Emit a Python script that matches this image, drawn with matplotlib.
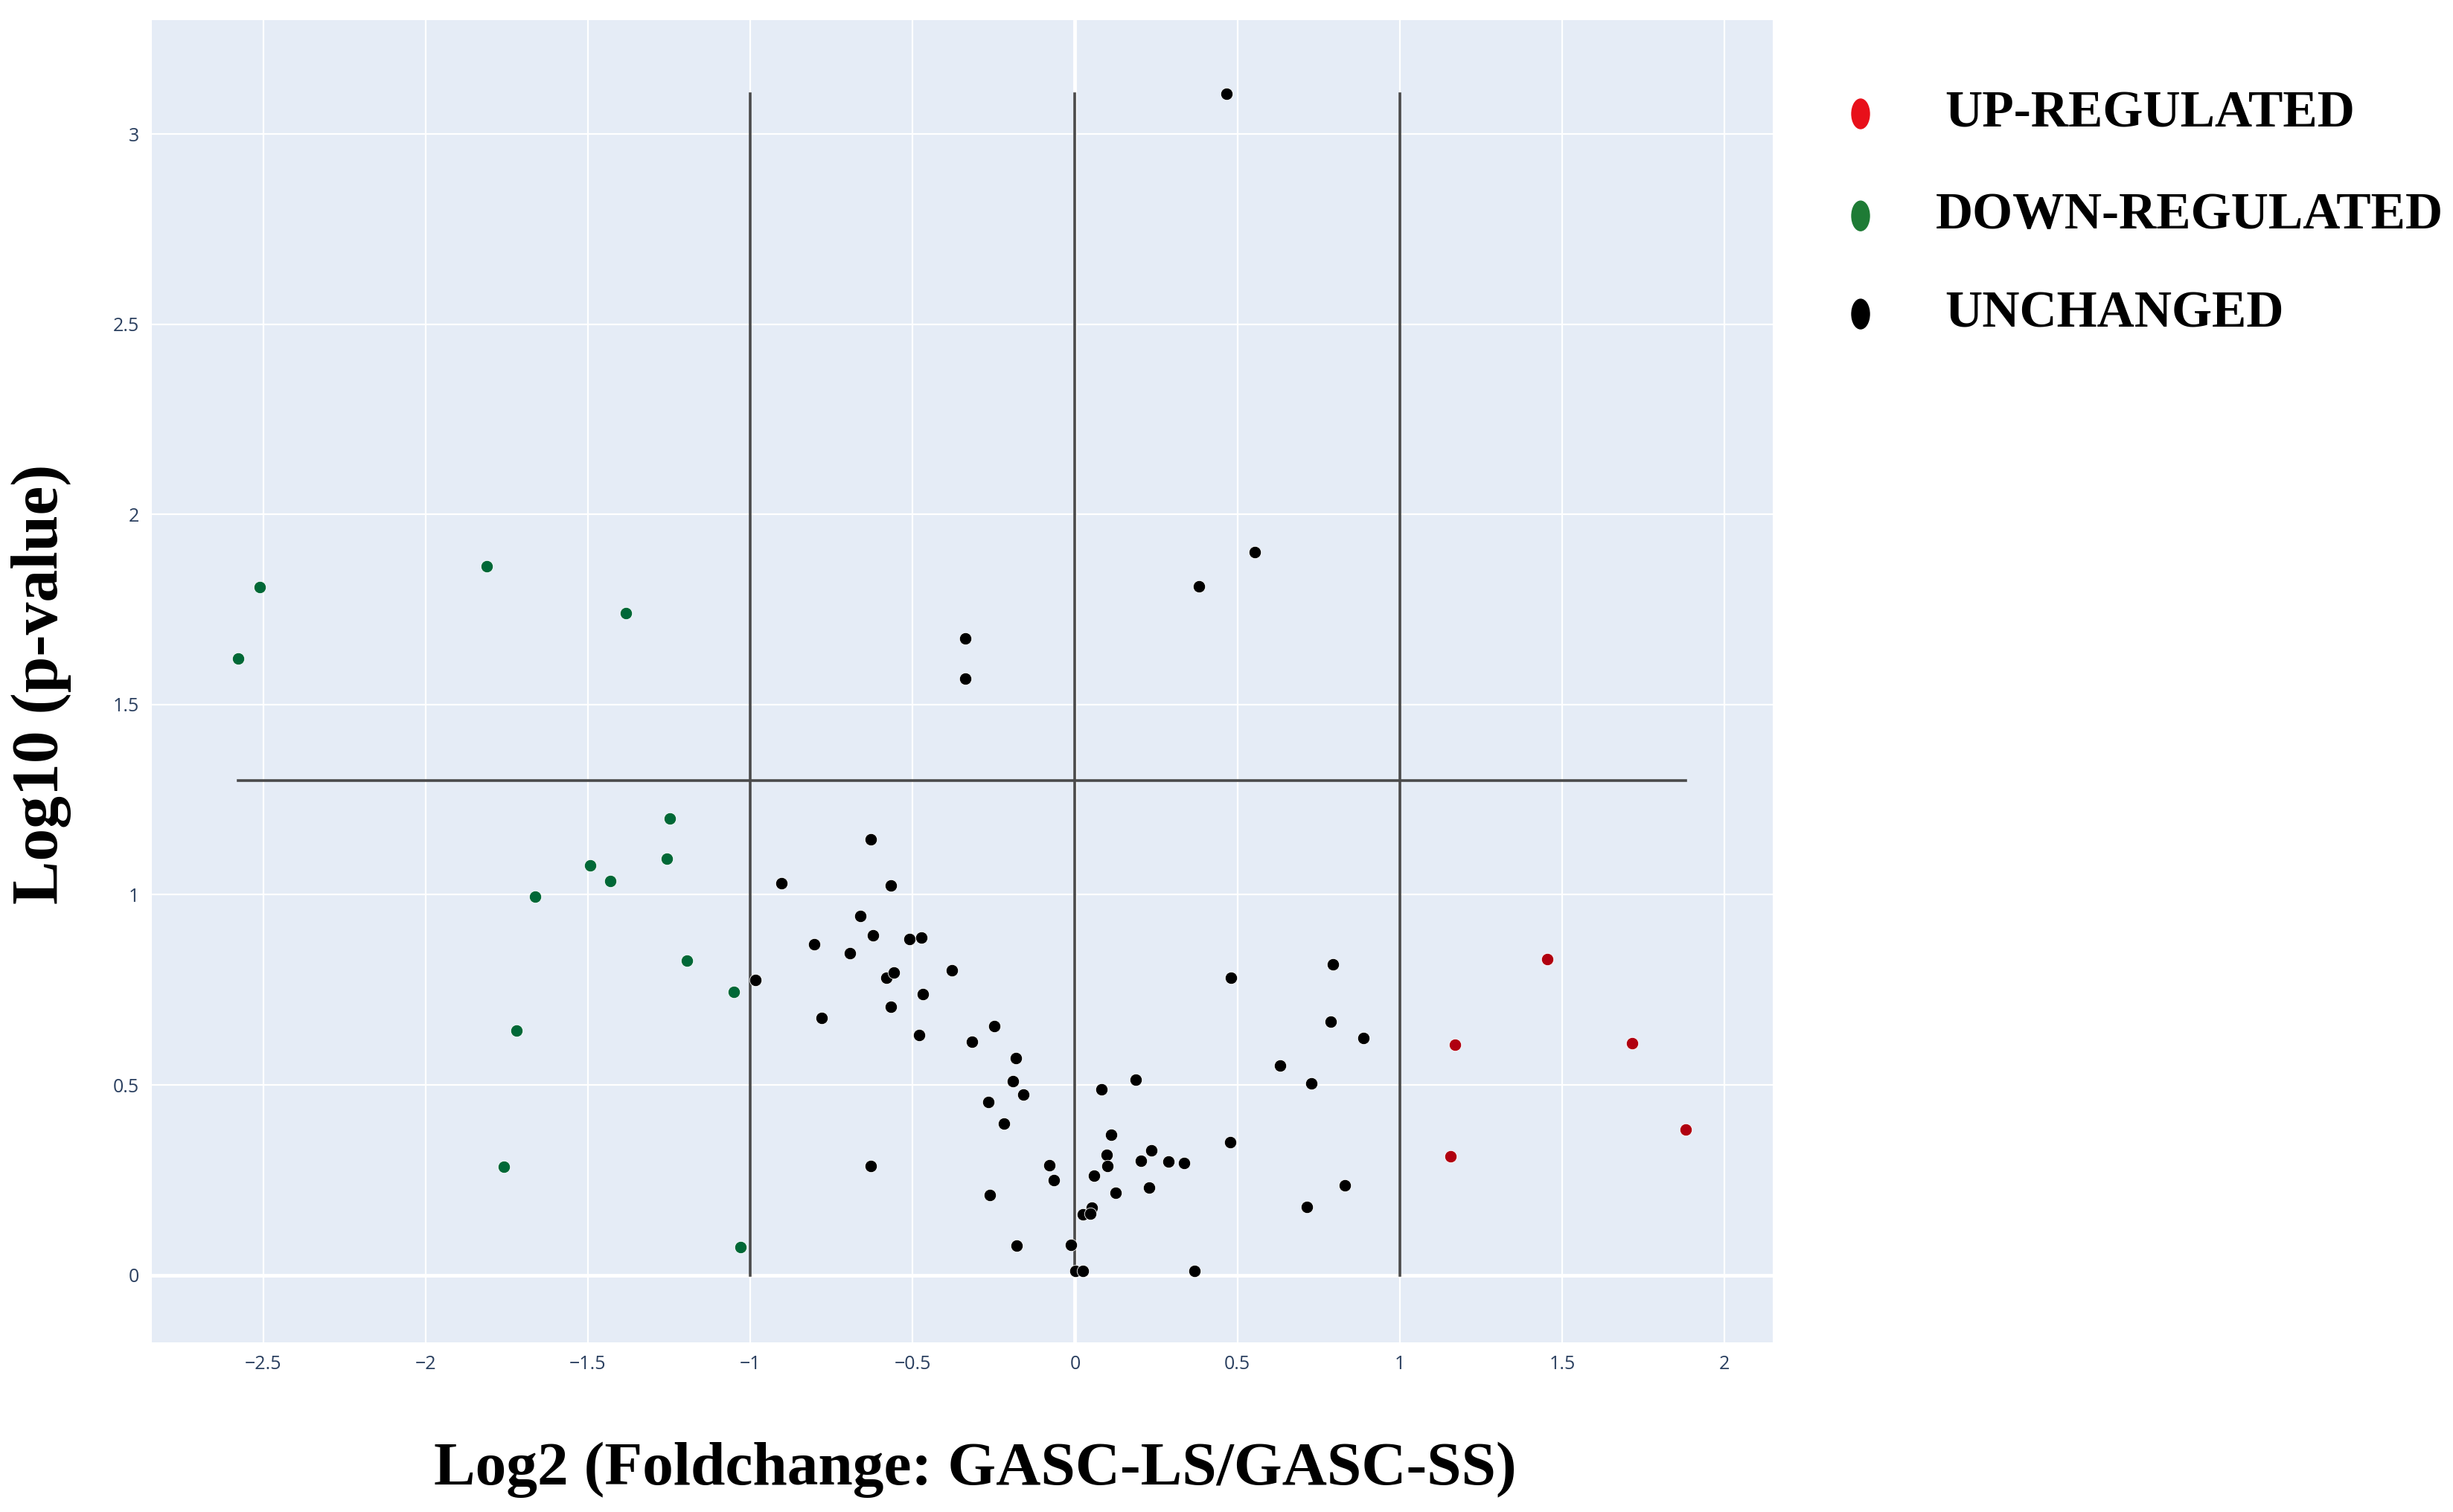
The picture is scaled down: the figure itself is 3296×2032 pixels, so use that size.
import matplotlib
matplotlib.use("Agg")
import matplotlib.pyplot as plt
from matplotlib.patches import Ellipse

# log2 fold change / -log10 p-value
up_x = [1.171, 1.455, 1.716, 1.157, 1.880]
up_y = [0.605, 0.831, 0.609, 0.313, 0.383]

down_x = [-2.578, -2.511, -1.812, -1.383, -1.248, -1.258, -1.494,
          -1.431, -1.663, -1.195, -1.051, -1.720, -1.759, -1.031]
down_y = [1.621, 1.810, 1.864, 1.740, 1.200, 1.095, 1.078,
          1.037, 0.996, 0.827, 0.745, 0.642, 0.284, 0.074]

unch_x = [0.467, 0.554, 0.381, -0.337, -0.337,
          -0.630, -0.905, -0.566, -0.660, -0.622, -0.804, -0.692, -0.509,
          -0.473, -0.985, -0.580, -0.557, -0.378, -0.469, -0.566, -0.781,
          -0.481, -0.248, -0.317, -0.182, -0.192, -0.159, -0.267, -0.219,
          -0.630, -0.079, -0.066, -0.263, -0.179, -0.013, 0.002, 0.025,
          0.481, 0.795, 0.787, 0.888, 0.631, 0.729, 0.188, 0.081, 0.112,
          0.097, 0.101, 0.202, 0.236, 0.287, 0.335, 0.479, 0.058, 0.125,
          0.228, 0.831, 0.714, 0.052, 0.025, 0.048, 0.367]
unch_y = [3.107, 1.901, 1.811, 1.675, 1.568,
          1.145, 1.031, 1.024, 0.944, 0.893, 0.870, 0.846, 0.883,
          0.887, 0.776, 0.782, 0.795, 0.802, 0.739, 0.706, 0.677,
          0.632, 0.654, 0.614, 0.570, 0.509, 0.475, 0.455, 0.398,
          0.287, 0.288, 0.249, 0.210, 0.077, 0.079, 0.011, 0.011,
          0.781, 0.817, 0.667, 0.623, 0.551, 0.503, 0.514, 0.488, 0.369,
          0.317, 0.286, 0.300, 0.328, 0.299, 0.295, 0.350, 0.262, 0.216,
          0.230, 0.236, 0.179, 0.177, 0.159, 0.162, 0.010]

fc_cutoffs = [-1, 0, 1]
p_cutoff = 1.30

xticks = [-2.5, -2, -1.5, -1, -0.5, 0, 0.5, 1, 1.5, 2]
yticks = [0, 0.5, 1, 1.5, 2, 2.5, 3]

legend_labels = ["UP-REGULATED", "DOWN-REGULATED", "UNCHANGED"]
legend_colors = ["#e8101a", "#1e7b35", "#000000"]

serif = ["Liberation Serif", "DejaVu Serif"]

fig = plt.figure(figsize=(32.96, 20.32), dpi=100)
ax = fig.add_axes([0.0619, 0.1122, 0.6608, 0.8745])
ax.set_facecolor("#e5ecf6")
for s in ax.spines.values():
    s.set_visible(False)

ax.set_xlim(-2.843, 2.149)
ax.set_ylim(-0.177, 3.30)
ax.set_xticks(xticks)
ax.set_yticks(yticks)
ax.set_xticklabels([f"{t:g}".replace("-", "\u2212") for t in xticks])
ax.set_yticklabels([f"{t:g}" for t in yticks])
ax.tick_params(length=0, labelsize=18, labelcolor="#2a3f5f", pad=12)
for lab in ax.get_xticklabels() + ax.get_yticklabels():
    lab.set_family("Open Sans")
ax.grid(color="white", lw=1.6, zorder=0)
ax.set_axisbelow(True)
ax.axhline(0, color="white", lw=3.5, zorder=0.5)
ax.axvline(0, color="white", lw=3.5, zorder=0.5)

# threshold lines span the data extent
all_x = up_x + down_x + unch_x
all_y = up_y + down_y + unch_y
for c in fc_cutoffs:
    ax.plot([c, c], [0, max(all_y)], color="#4a4a4a", lw=2.6, zorder=2)
ax.plot([min(all_x), max(all_x)], [p_cutoff, p_cutoff], color="#4a4a4a", lw=2.6, zorder=2)

kw = dict(s=140, edgecolors="white", linewidths=0.6, zorder=3)
ax.scatter(unch_x, unch_y, color="black", **kw)
ax.scatter(down_x, down_y, color="#006837", **kw)
ax.scatter(up_x, up_y, color="#b00010", **kw)

fig.text(0.3974, 0.0280, "Log2 (Foldchange: GASC-LS/GASC-SS)", ha="center", va="center",
         fontsize=60, fontweight="bold", family=serif)
fig.text(0.0167, 0.5477, "Log10 (p-value)", ha="center", va="center", rotation=90,
         fontsize=63, fontweight="bold", family=serif)

# legend, drawn by hand to match the tall dots and spacing
leg_y = [0.9247, 0.8572, 0.7923]
leg_tx = [0.7928, 0.7890, 0.7928]
for lab, col, y, tx in zip(legend_labels, legend_colors, leg_y, leg_tx):
    fig.add_artist(Ellipse((0.7585, y), 24 / 3296, 40 / 2032, color=col,
                           transform=fig.transFigure))
    fig.text(tx, y, lab, ha="left", va="center", fontsize=50, fontweight="bold", family=serif)

fig.savefig("out.png", dpi=100, facecolor="white")
